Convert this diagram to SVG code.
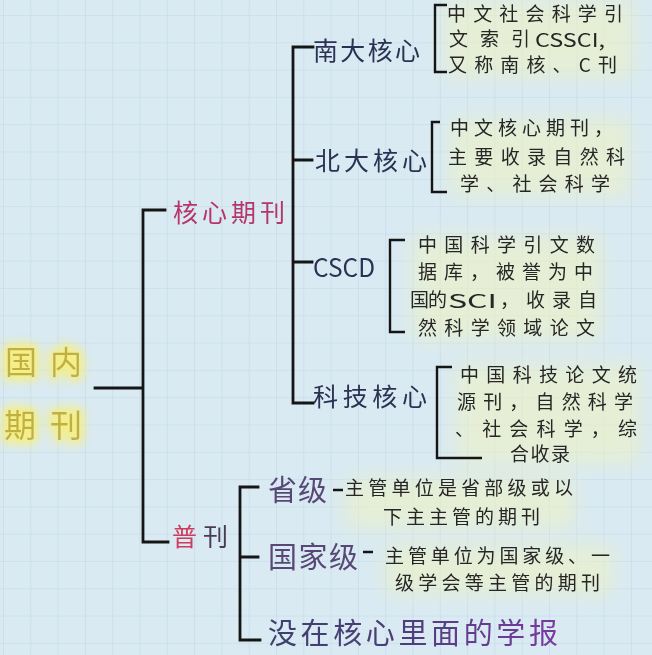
<svg xmlns="http://www.w3.org/2000/svg" width="652" height="655" viewBox="0 0 652 655">
<defs>
<pattern id="grid" x="3" y="15" width="27.3" height="27.3" patternUnits="userSpaceOnUse">
<path d="M0 0H27.3M0 0V27.3" fill="none" stroke="#c3d8e6" stroke-width="1.2"/>
</pattern>
<filter id="glow" x="-30%" y="-30%" width="160%" height="160%">
<feFlood flood-color="#f5ee86" result="c"/>
<feComposite in="c" in2="SourceAlpha" operator="in" result="s"/>
<feMorphology in="s" operator="dilate" radius="2" result="d"/>
<feGaussianBlur in="d" stdDeviation="6" result="b"/>
<feMerge><feMergeNode in="b"/><feMergeNode in="b"/><feMergeNode in="SourceGraphic"/></feMerge>
</filter>
<filter id="soft" x="-20%" y="-40%" width="140%" height="180%">
<feGaussianBlur stdDeviation="10"/>
</filter>
<linearGradient id="purp" x1="0" y1="0" x2="1" y2="0">
<stop offset="0" stop-color="#3e3f6e"/>
<stop offset="0.45" stop-color="#4c3f78"/>
<stop offset="1" stop-color="#7a3aa0"/>
</linearGradient>
</defs>
<style>
.cjk{font-family:"Noto Sans CJK SC","Noto Sans",sans-serif;}
.root{font-size:32px;fill:#c0b040;}
.l1{font-size:25px;fill:#b5366a;}
.l2{font-size:25px;fill:#2b3152;}
.l3{font-size:29px;fill:#574876;}
.d{font-size:19px;fill:#262626;}
.ln{fill:none;stroke:#151515;stroke-width:2.8;stroke-linecap:square;}
.br{fill:none;stroke:#151515;stroke-width:2.4;}
.hl{fill:#eef2c2;opacity:0.6;}
</style>
<rect width="652" height="655" fill="#d9eaf3"/>
<rect width="652" height="655" fill="url(#grid)"/>

<g id="highlights" filter="url(#soft)">
<rect class="hl" x="444" y="0" width="190" height="78"/>
<rect class="hl" x="450" y="118" width="180" height="78"/>
<rect class="hl" x="412" y="236" width="190" height="104"/>
<rect class="hl" x="455" y="364" width="185" height="100"/>
<rect class="hl" x="345" y="478" width="230" height="50"/>
<rect class="hl" x="385" y="545" width="228" height="50"/>
</g>

<g id="connectors">
<path class="ln" d="M95 388H143M165 210H143V542H168"/>
<path class="ln" d="M313 47H293V403H313M293 160H312M293 262H312"/>
<path class="ln" d="M258 487H240V640H260M240 557H258"/>
<path class="br" d="M447 5H435V72H447"/>
<path class="br" d="M440 122H432V192H447"/>
<path class="br" d="M405 240H390V332H405"/>
<path class="br" d="M452 367H437V458H482"/>
<path class="br" d="M333 490H343M363 552H373"/>
</g>

<g id="root" filter="url(#glow)">
<text class="cjk root" x="5" y="374" textLength="77" lengthAdjust="spacing">国内</text>
<text class="cjk root" x="4" y="437" textLength="78" lengthAdjust="spacing">期刊</text>
</g>

<g id="hexin">
<text class="cjk l1" x="173" y="222" textLength="112" lengthAdjust="spacing">核心期刊</text>
</g>
<g id="pukan">
<text class="cjk" x="172" y="546" font-size="25" textLength="56" lengthAdjust="spacing"><tspan fill="#cf3a5e">普</tspan><tspan fill="#4a3a55">刊</tspan></text>
</g>

<g id="nanda">
<text class="cjk l2" x="313" y="60" textLength="107" lengthAdjust="spacing">南大核心</text>
<text class="cjk d" x="447" y="21" textLength="176" lengthAdjust="spacing">中文社会科学引</text>
<text class="cjk d" x="449" y="46" textLength="81" lengthAdjust="spacing">文索引</text>
<text class="cjk d" x="535" y="47" font-size="22" textLength="70" lengthAdjust="spacingAndGlyphs">CSSCI,</text>
<text class="cjk d" x="448" y="72" textLength="169" lengthAdjust="spacing">又称南核、C刊</text>
</g>

<g id="beida">
<text class="cjk l2" x="315" y="170" textLength="112" lengthAdjust="spacing">北大核心</text>
<text class="cjk d" x="450" y="135" textLength="163" lengthAdjust="spacing">中文核心期刊，</text>
<text class="cjk d" x="448" y="164" textLength="177" lengthAdjust="spacing">主要收录自然科</text>
<text class="cjk d" x="460" y="191" textLength="150" lengthAdjust="spacing">学、社会科学</text>
</g>

<g id="cscd">
<text class="cjk l2" x="313" y="277" font-size="26" textLength="62" lengthAdjust="spacingAndGlyphs">CSCD</text>
<text class="cjk d" x="418" y="252" textLength="177" lengthAdjust="spacing">中国科学引文数</text>
<text class="cjk d" x="418" y="279" textLength="175" lengthAdjust="spacing">据库，被誉为中</text>
<text class="cjk d" x="410" y="307" font-size="17">国</text>
<text class="cjk d" x="428" y="307" font-size="17">的</text>
<text class="cjk d" x="448" y="308" font-size="22" textLength="49" lengthAdjust="spacingAndGlyphs">SCI</text>
<text class="cjk d" x="500" y="307" textLength="97" lengthAdjust="spacing">，收录自</text>
<text class="cjk d" x="418" y="335" textLength="177" lengthAdjust="spacing">然科学领域论文</text>
</g>

<g id="keji">
<text class="cjk l2" x="313" y="406" textLength="114" lengthAdjust="spacing">科技核心</text>
<text class="cjk d" x="460" y="382" textLength="177" lengthAdjust="spacing">中国科技论文统</text>
<text class="cjk d" x="457" y="409" textLength="176" lengthAdjust="spacing">源刊，自然科学</text>
<text class="cjk d" x="455" y="436" textLength="182" lengthAdjust="spacing">、社会科学，综</text>
<text class="cjk d" x="510" y="461" textLength="60" lengthAdjust="spacing">合收录</text>
</g>

<g id="shengji">
<text class="cjk l3" x="268" y="501" textLength="59" lengthAdjust="spacing">省级</text>
<text class="cjk d" x="345" y="495" textLength="228" lengthAdjust="spacing">主管单位是省部级或以</text>
<text class="cjk d" x="383" y="524" textLength="157" lengthAdjust="spacing">下主主管的期刊</text>
</g>

<g id="guojiaji">
<text class="cjk l3" x="268" y="568" textLength="90" lengthAdjust="spacing">国家级</text>
<text class="cjk d" x="385" y="563" textLength="225" lengthAdjust="spacing">主管单位为国家级、一</text>
<text class="cjk d" x="395" y="590" textLength="205" lengthAdjust="spacing">级学会等主管的期刊</text>
</g>

<g id="xuebao">
<text class="cjk" x="268" y="644" font-size="29" fill="url(#purp)" textLength="290" lengthAdjust="spacing">没在核心里面的学报</text>
</g>
</svg>
